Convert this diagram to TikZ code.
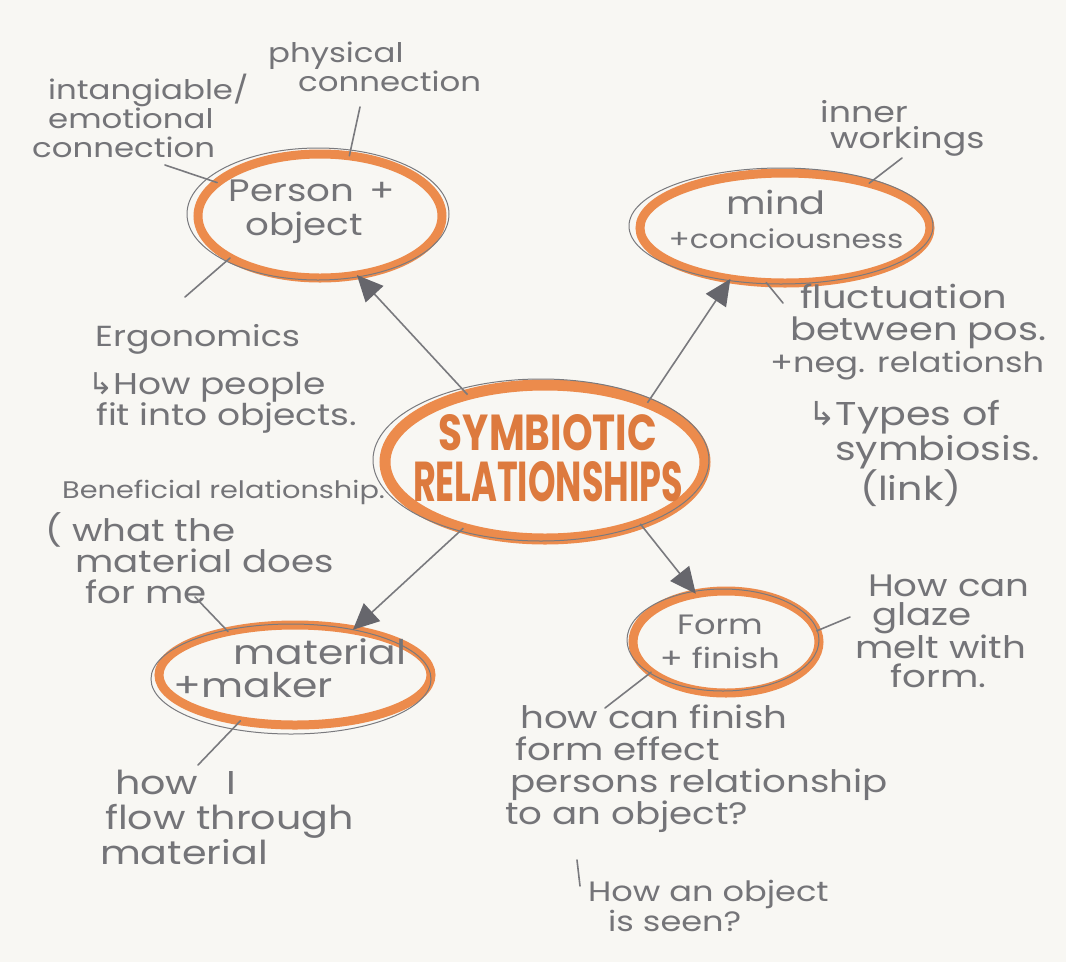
\documentclass[tikz,border=0pt]{standalone}
\usepackage{fontspec}
\setmainfont{Poppins}[FakeStretch=1.2]
\newfontfamily\sym{DejaVu Sans}
\usepackage{graphicx}
\usetikzlibrary{shapes.geometric,arrows.meta}
\definecolor{paper}{HTML}{F8F7F3}
\definecolor{ink}{HTML}{747478}
\definecolor{pencil}{HTML}{7A7A7E}
\definecolor{tipc}{HTML}{66666C}
\definecolor{orng}{HTML}{EC8B4C}
\definecolor{orngtxt}{HTML}{DD7A3E}
\newcommand{\fs}[2]{\fontsize{#1}{#2}\selectfont}
\begin{document}
\begin{tikzpicture}[x=1pt,y=-1pt,
 hand/.style={font=\fs{30}{31}, text=ink, inner sep=0pt, align=left, anchor=north west},
 intext/.style={text=ink, inner sep=0pt, align=center},
 ring/.style={ellipse, draw=orng, line width=9pt, inner sep=0pt, outer sep=0pt},
 thinline/.style={draw=pencil, line width=1pt},
 tick/.style={draw=pencil, line width=1.6pt, line cap=round},
 arr/.style={draw=pencil, line width=1.6pt, -{Triangle[length=26pt,width=24pt,color=tipc]}}]
\fill[paper] (0,0) rectangle (1066,962);
\useasboundingbox (0,0) rectangle (1066,962);

% main ellipses
\node[ring, minimum width=244pt, minimum height=124pt] (po) at (320,216) {};
\node[ring, minimum width=290pt, minimum height=110pt] (mc) at (785,228) {};
\node[ring, line width=11pt, minimum width=320pt, minimum height=154pt] (cen) at (545,462) {};
\node[ring, minimum width=272pt, minimum height=100pt] (mm) at (295,675) {};
\node[ring, minimum width=186pt, minimum height=102pt] (ff) at (726,642) {};

% thin pencil outlines around ellipses
\draw[thinline] (318,214) ellipse (131 and 66);
\draw[thinline] (781,226) ellipse (152 and 58);
\draw[thinline] (541,460) ellipse (168 and 81);
\draw[thinline] (291,679) ellipse (140 and 55);
\draw[thinline] (723,640) ellipse (96 and 51);

% texts inside ellipses
\node[intext, font=\fs{31}{34}] (poT) at (312,212) {Person \,+\\object\hspace*{16pt}};
\node[intext, font=\fs{26}{34}] (mcT) at (786,219) {{\fs{32}{34}mind}\hspace*{20pt}\\+conciousness};
\node[intext, text=orngtxt, align=center] (cenT) at (548,458)
  {\resizebox{218pt}{36pt}{\bfseries SYMBIOTIC}\\[9pt]\resizebox{270pt}{40pt}{\bfseries RELATIONSHIPS}};
\node[intext, align=left, font=\fs{34}{33}] (mmT) at (290,668) {\hspace*{60pt}material\\+maker};
\node[intext, font=\fs{28}{34}] (ffT) at (720,642) {Form\\+ finish};

% arrows from centre
\draw[arr] (cen.139) -- (po.302);
\draw[arr] (cen.30) -- (mc.223);
\draw[arr] (cen.219) -- (mm.38);
\draw[arr] (cen.327) -- (ff.122);

% text labels
\node[hand, font=\fs{27}{29}] (pc) at (268,42) {physical\\\hspace*{30pt}connection};
\node[hand, font=\fs{27}{29}] (ic) at (32,74) {\hspace*{16pt}intangiable/\\\hspace*{16pt}emotional\\connection};
\node[hand, font=\fs{29}{31}] (erg) at (95,324) {Ergonomics};
\node[hand, font=\fs{30}{31}] (hp) at (88,372) {{\sym ↳}How people\\\hspace*{8pt}fit into objects.};
\node[hand, font=\fs{29}{26}] (iw) at (820,100) {inner\\\hspace*{10pt}workings};
\node[hand, font=\fs{32}{32}] (fl) at (770,284) {\hspace*{30pt}fluctuation\\\hspace*{20pt}between pos.\\{\fs{28}{32}+neg. relationsh}};
\node[hand, font=\fs{33}{32}] (ty) at (808,400) {{\sym ↳}Types of\\\hspace*{27pt}symbiosis.\\\hspace*{52pt}(link)};
\node[hand, font=\fs{24}{26}] (ben) at (62,480) {Beneficial relationship.};
\node[hand, font=\fs{31}{31}] (wt) at (45,512) {( what the\\\hspace*{30pt}material does\\\hspace*{40pt}for me};
\node[hand, font=\fs{33}{35}] (hw) at (100,770) {\hspace*{15pt}how\hspace*{28pt}I\\\hspace*{5pt}flow through\\material};
\node[hand, font=\fs{31}{29}] (hc) at (855,575) {\hspace*{13pt}How can\\\hspace*{17pt}glaze\\melt with\\\hspace*{35pt}form.};
\node[hand, font=\fs{31}{32}] (fe) at (505,705) {\hspace*{15pt}how can finish\\\hspace*{10pt}form effect\\\hspace*{5pt}persons relationship\\to an object?};
\node[hand, font=\fs{28}{30}] (hs) at (588,880) {How an object\\\hspace*{20pt}is seen?};

% label connectors
\coordinate (pcEnd) at (360,107);
\coordinate (icEnd) at (165,165);
\coordinate (ergEnd) at (185,297);
\coordinate (iwEnd) at (902,158);
\coordinate (flEnd) at (783,303);
\coordinate (wtEnd) at (195,597);
\coordinate (hwEnd) at (198,765);
\coordinate (hcEnd) at (850,617);
\coordinate (feEnd) at (605,708);
\coordinate (hsTop) at (577,860);
\coordinate (hsBot) at (580,886);
\draw[tick] (po.64) -- (pcEnd);
\draw[tick] (po.162) -- (icEnd);
\draw[tick] (po.205) -- (ergEnd);
\draw[tick] (mc.28) -- (iwEnd);
\draw[tick] (mc.251) -- (flEnd);
\draw[tick] (mm.147) -- (wtEnd);
\draw[tick] (mm.220) -- (hwEnd);
\draw[tick] (ff.7) -- (hcEnd);
\draw[tick] (ff.202) -- (feEnd);
\draw[tick] (hsTop) -- (hsBot);
\end{tikzpicture}
\end{document}
